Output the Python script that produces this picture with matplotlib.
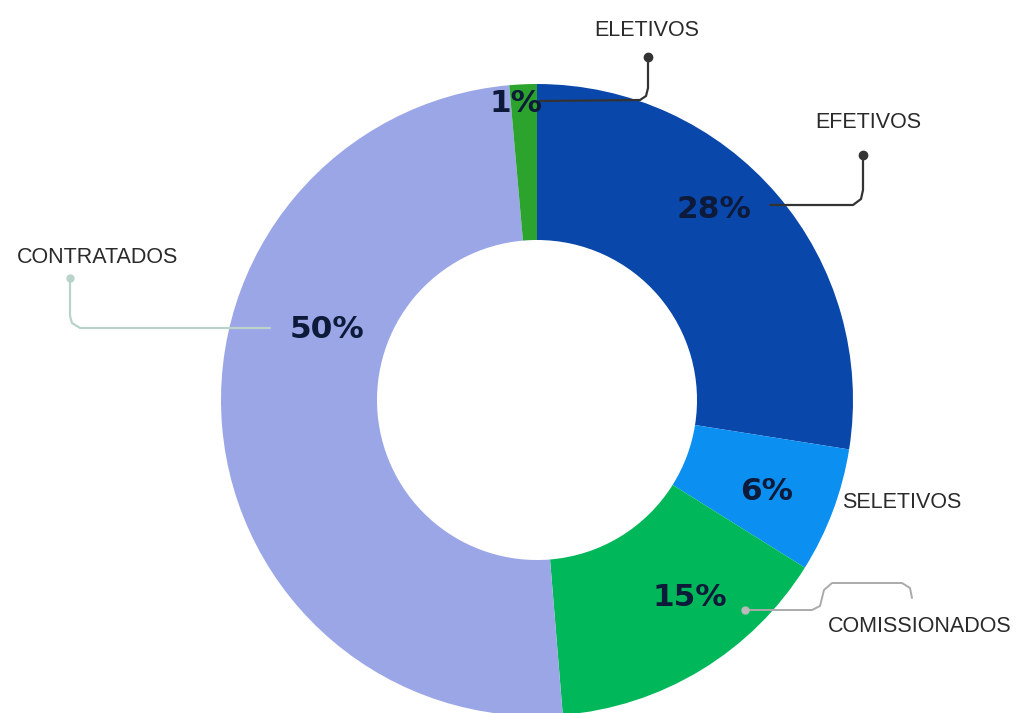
import matplotlib
matplotlib.use('Agg')
import matplotlib.pyplot as plt

labels = ['EFETIVOS', 'SELETIVOS', 'COMISSIONADOS', 'CONTRATADOS', 'ELETIVOS']
values = [27.5, 6.4, 14.8, 49.9, 1.4]
colors = ['#0a47aa', '#0b8ff0', '#00b85a', '#9ba6e6', '#2ca32c']

H = 713
fig = plt.figure(figsize=(10.2, 7.13), dpi=100)
ax = fig.add_axes([0, 0, 1, 1])

cx, cy, R = 537, H - 400, 316
wedges, _ = ax.pie(values, colors=colors, startangle=90, counterclock=False,
                   center=(cx, cy), radius=R, frame=True,
                   wedgeprops=dict(width=R - 160, linewidth=0))
ax.set_xlim(0, 1020)
ax.set_ylim(0, H)
ax.set_aspect('equal')
ax.axis('off')

pct_font = dict(fontsize=22.5, fontweight='bold', color='#0d1a3a',
                ha='center', va='center', family='DejaVu Sans')
# percentage labels (pixel positions)
pct_pos = [(714, 210), (767, 492), (690, 597), (327, 330), (516, 104)]
for (x, y), v in zip(pct_pos, values):
    ax.text(x, H - y, f'{round(v)}%', **pct_font)

lab_font = dict(fontsize=15.5, color='#2a2a2a', ha='center', va='center',
                family='Liberation Sans')
lab_pos = {'EFETIVOS': (868, 122), 'SELETIVOS': (902, 502),
           'COMISSIONADOS': (920, 626), 'CONTRATADOS': (98, 258),
           'ELETIVOS': (647, 30)}
for name, (x, y) in lab_pos.items():
    ax.text(x, H - y, name, **lab_font)


def leader(pts, color, lw=1.6):
    xs = [p[0] for p in pts]
    ys = [H - p[1] for p in pts]
    ax.plot(xs, ys, color=color, lw=lw, solid_joinstyle='round',
            solid_capstyle='round')


# ELETIVOS
leader([(648, 57), (648, 88), (646, 96), (640, 100), (540, 101)], '#333333')
ax.plot(648, H - 57, 'o', color='#333333', ms=6)
# EFETIVOS
leader([(863, 155), (863, 190), (861, 199), (853, 205), (770, 205)], '#333333')
ax.plot(863, H - 155, 'o', color='#333333', ms=6)
# CONTRATADOS
leader([(70, 278), (70, 316), (72, 323), (80, 328), (270, 328)], '#b9d3cb')
ax.plot(70, H - 278, 'o', color='#b9d3cb', ms=5)
# COMISSIONADOS
leader([(745, 610), (812, 610), (820, 606), (824, 590), (832, 583),
        (902, 583), (910, 588), (912, 598)], '#aaaaaa', lw=1.4)
ax.plot(745, H - 610, 'o', color='#bbbbbb', ms=5)

fig.savefig('out.png', dpi=100, facecolor='white')
